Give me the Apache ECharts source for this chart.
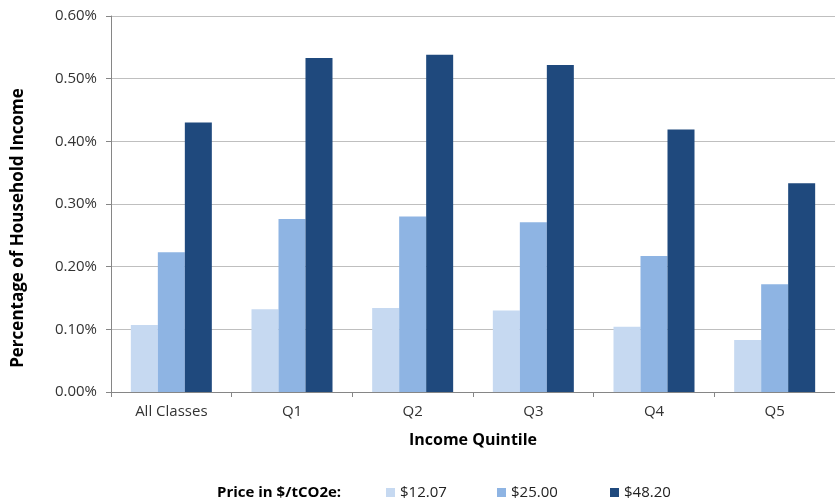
<!DOCTYPE html>
<html>
<head>
<meta charset="utf-8">
<script src="https://cdn.jsdelivr.net/npm/echarts@6/dist/echarts.min.js"></script>
<style>
  html, body { margin: 0; padding: 0; background: #fff; }
  #chart { width: 835px; height: 499px; }
</style>
</head>
<body>
<div id="chart"></div>
<script>
// 收入五分位
var categories = ['All Classes', 'Q1', 'Q2', 'Q3', 'Q4', 'Q5']
var seriesNames = ['$12.07', '$25.00', '$48.20']
// 占家庭收入百分比 (%)
var price1207 = [0.107, 0.132, 0.134, 0.130, 0.104, 0.083]
var price2500 = [0.223, 0.276, 0.280, 0.271, 0.217, 0.172]
var price4820 = [0.430, 0.533, 0.538, 0.522, 0.419, 0.333]
var colors = ['#c6d9f1', '#8eb4e3', '#1f497d']

var font = '"Open Sans", "Noto Sans", sans-serif'

// 每个图例单独摆放
var legendLeft = [381, 492, 605]
var legends = seriesNames.map(function (name, i) {
  return {
    data: [name],
    left: legendLeft[i],
    top: 480,
    itemWidth: 9,
    itemHeight: 9,
    icon: 'rect',
    textStyle: { fontSize: 15, color: '#222', fontFamily: font }
  }
})

var chart = echarts.init(document.getElementById('chart'))
chart.setOption({
  animation: false,
  color: colors,
  textStyle: { fontFamily: font },
  title: {
    text: 'Price in $/tCO2e:',
    left: 212,
    top: 480,
    textStyle: { fontSize: 15, fontWeight: 'bold', color: '#000', fontFamily: font }
  },
  legend: legends,
  graphic: [{
    type: 'text',
    x: 18,
    y: 228,
    rotation: Math.PI / 2,
    style: {
      text: 'Percentage of Household Income',
      font: 'bold 17px ' + font,
      fill: '#000',
      align: 'center',
      verticalAlign: 'middle'
    }
  }],
  grid: {
    left: 111,
    top: 16,
    right: -6,
    bottom: 107
  },
  xAxis: {
    type: 'category',
    data: categories,
    name: 'Income Quintile',
    nameLocation: 'middle',
    nameGap: 40,
    nameTextStyle: { fontSize: 16, fontWeight: 'bold', color: '#000' },
    axisLine: { lineStyle: { color: '#868686' } },
    axisTick: { show: true, length: 5, lineStyle: { color: '#868686' } },
    axisLabel: { fontSize: 15, color: '#333', margin: 12 }
  },
  yAxis: {
    type: 'value',
    min: 0,
    max: 0.6,
    interval: 0.1,
    axisLine: { show: true, lineStyle: { color: '#868686' } },
    axisTick: { show: true, length: 5, lineStyle: { color: '#868686' } },
    splitLine: { lineStyle: { color: '#bfbfbf' } },
    axisLabel: {
      fontSize: 15,
      color: '#333',
      margin: 14,
      formatter: function (v) { return v.toFixed(2) + '%' }
    }
  },
  series: [
    { name: seriesNames[0], type: 'bar', data: price1207, barWidth: 27, barGap: '0%' },
    { name: seriesNames[1], type: 'bar', data: price2500, barWidth: 27, barGap: '0%' },
    { name: seriesNames[2], type: 'bar', data: price4820, barWidth: 27, barGap: '0%' }
  ]
})
</script>
</body>
</html>
